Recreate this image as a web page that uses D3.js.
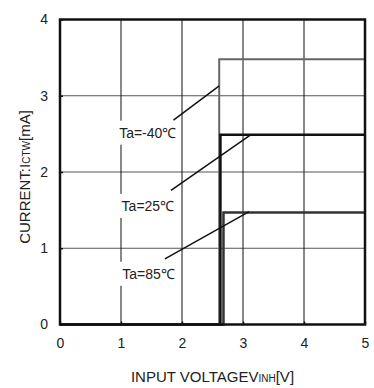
<!DOCTYPE html>
<html>
<head>
<meta charset="utf-8">
<script src="https://cdn.jsdelivr.net/npm/d3@7"></script>
<style>
  body { margin: 0; background: #fff; }
  text { font-family: "Liberation Sans", Arial, sans-serif; fill: #222; }
</style>
</head>
<body>
<div class="chart"></div>
<script>
// Data
const xTicks = [0, 1, 2, 3, 4, 5];
const yTicks = [0, 1, 2, 3, 4];

const seriesNames = ['Ta=-40℃', 'Ta=25℃', 'Ta=85℃'];
const seriesVoltage = [
    [0, 2.61, 2.61, 5],
    [0, 2.63, 2.63, 5],
    [0, 2.68, 2.68, 5]
];
const seriesCurrent = [
    [0, 0, 3.48, 3.48],
    [0, 0, 2.49, 2.49],
    [0, 0, 1.47, 1.47]
];
// label anchor (text start) and leader line endpoints, in data units
const labelPos = [[0.97, 2.45], [1.01, 1.49], [1.02, 0.60]];
const leaderFrom = [[1.86, 2.68], [1.82, 1.76], [1.72, 0.86]];
const leaderTo = [[2.61, 3.13], [3.13, 2.49], [3.10, 1.48]];

const width = 374;
const height = 388;
const margin = {top: 19.5, right: 9, bottom: 63.5, left: 60};

const svg = d3.select('.chart')
    .append('svg')
    .attr('width', width)
    .attr('height', height);

const x = d3.scaleLinear()
    .domain([0, 5])
    .range([margin.left, width - margin.right]);

const y = d3.scaleLinear()
    .domain([0, 4])
    .range([height - margin.bottom, margin.top]);

// Grid lines
svg.append('g')
    .selectAll('line')
    .data(yTicks.slice(1, -1))
    .join('line')
    .attr('x1', x(0)).attr('x2', x(5))
    .attr('y1', d => y(d)).attr('y2', d => y(d))
    .attr('stroke', '#555')
    .attr('stroke-width', 1);

svg.append('g')
    .selectAll('line')
    .data(xTicks.slice(1, -1))
    .join('line')
    .attr('y1', y(0)).attr('y2', y(4))
    .attr('x1', d => x(d)).attr('x2', d => x(d))
    .attr('stroke', '#111')
    .attr('stroke-width', 1);

// Curves
const colors = ['#666', '#111', '#333'];
const widths = [2, 2.5, 2.5];
const line = d3.line()
    .x(d => x(d[0]))
    .y(d => y(d[1]));

seriesNames.forEach((name, i) => {
    const pts = seriesVoltage[i].map((v, j) => [v, seriesCurrent[i][j]]);
    svg.append('path')
        .attr('d', line(pts))
        .attr('fill', 'none')
        .attr('stroke', colors[i])
        .attr('stroke-width', widths[i]);
});

// Labels with white boxes
seriesNames.forEach((name, i) => {
    const t = svg.append('text')
        .attr('x', x(labelPos[i][0]))
        .attr('y', y(labelPos[i][1]))
        .attr('font-size', 14)
        .text(name);
    const bb = t.node().getBBox();
    svg.insert('rect', () => t.node())
        .attr('x', bb.x - 3)
        .attr('y', bb.y - 4)
        .attr('width', bb.width + 6)
        .attr('height', bb.height + 8)
        .attr('fill', '#fff');
    svg.append('line')
        .attr('x1', x(leaderFrom[i][0])).attr('y1', y(leaderFrom[i][1]))
        .attr('x2', x(leaderTo[i][0])).attr('y2', y(leaderTo[i][1]))
        .attr('stroke', '#111')
        .attr('stroke-width', 1.5);
});

// Frame
svg.append('rect')
    .attr('x', x(0)).attr('y', y(4))
    .attr('width', x(5) - x(0))
    .attr('height', y(0) - y(4))
    .attr('fill', 'none')
    .attr('stroke', '#111')
    .attr('stroke-width', 2.5);

// Axes
const xAxis = svg.append('g')
    .attr('transform', `translate(0,${y(0)})`)
    .call(d3.axisBottom(x).tickValues(xTicks).tickFormat(d3.format('d')).tickSize(-3).tickPadding(14));
const yAxis = svg.append('g')
    .attr('transform', `translate(${x(0)},0)`)
    .call(d3.axisLeft(y).tickValues(yTicks).tickFormat(d3.format('d')).tickSize(-3).tickPadding(12));

[xAxis, yAxis].forEach(g => {
    g.select('.domain').remove();
    g.selectAll('.tick line').attr('stroke', '#111').attr('stroke-width', 1.5);
    g.selectAll('.tick text')
        .attr('font-size', 14)
        .attr('font-family', '"Liberation Sans", Arial, sans-serif')
        .attr('fill', '#222');
});

// Axis titles
const xTitle = svg.append('text')
    .attr('x', (x(0) + x(5)) / 2)
    .attr('y', 382)
    .attr('text-anchor', 'middle')
    .attr('font-size', 15);
xTitle.append('tspan').text('INPUT VOLTAGEV');
xTitle.append('tspan').attr('font-size', 10).text('INH');
xTitle.append('tspan').text('[V]');

const yTitle = svg.append('text')
    .attr('transform', `translate(30,${(y(0) + y(4)) / 2 + 5}) rotate(-90)`)
    .attr('text-anchor', 'middle')
    .attr('font-size', 15);
yTitle.append('tspan').text('CURRENT:I');
yTitle.append('tspan').attr('font-size', 10).text('CTW');
yTitle.append('tspan').text('[mA]');
</script>
</body>
</html>
